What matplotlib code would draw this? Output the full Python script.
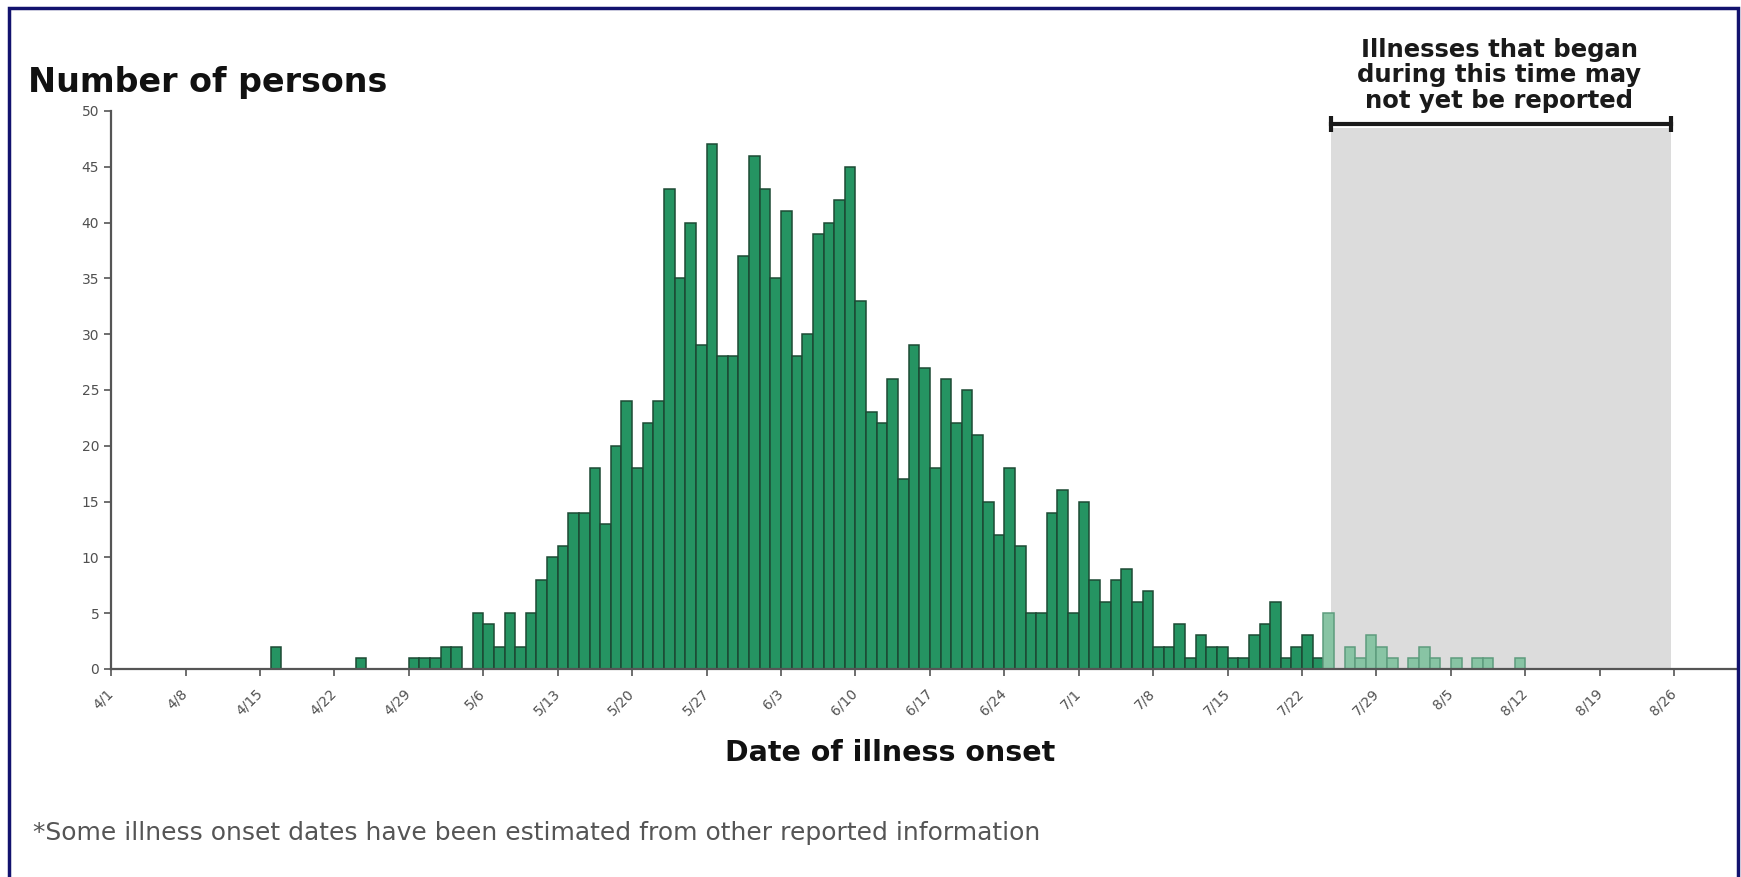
import matplotlib.pyplot as plt
import numpy as np
import pandas as pd
from matplotlib.patches import Rectangle

# daily illness onset counts, starting 4/16
first_onset = '2008-04-16'
cases = [2, 0, 0, 0, 0, 0, 0, 0, 1, 0, 0, 0, 0,
         1, 1, 1, 2, 2, 0,                      # 4/29 - 5/4
         5, 4, 2, 5, 2, 5, 8, 10,               # 5/5 - 5/12
         11, 14, 14, 18, 13, 20, 24,            # 5/13 - 5/19
         18, 22, 24, 43, 35, 40, 29,            # 5/20 - 5/26
         47, 28, 28, 37, 46, 43, 35,            # 5/27 - 6/2
         41, 28, 30, 39, 40, 42, 45,            # 6/3 - 6/9
         33, 23, 22, 26, 17, 29, 27,            # 6/10 - 6/16
         18, 26, 22, 25, 21, 15, 12,            # 6/17 - 6/23
         18, 11, 5, 5, 14, 16, 5,               # 6/24 - 6/30
         15, 8, 6, 8, 9, 6, 7,                  # 7/1 - 7/7
         2, 2, 4, 1, 3, 2, 2,                   # 7/8 - 7/14
         1, 1, 3, 4, 6, 1, 2,                   # 7/15 - 7/21
         3, 1,                                  # 7/22 - 7/23
         5, 0, 2, 1, 3, 2, 1, 0, 1, 2, 1, 0,    # 7/24 - 8/4
         1, 0, 1, 1, 0, 0, 1]                   # 8/5 - 8/11

axis_start = '2008-04-01'
axis_last_tick = '2008-08-26'
not_yet_reported = '2008-07-24'   # bars from here on are incomplete
shade_start = '2008-07-24'
shade_end = '2008-08-25'

origin = pd.Timestamp(axis_start)
days = (pd.date_range(first_onset, periods=len(cases)) - origin).days.to_numpy()
cases = np.array(cases)
late = days >= (pd.Timestamp(not_yet_reported) - origin).days

tick_dates = pd.date_range(axis_start, axis_last_tick, freq='7D')
tick_pos = (tick_dates - origin).days.to_numpy()
tick_labels = [f"{d.month}/{d.day}" for d in tick_dates]

s0 = (pd.Timestamp(shade_start) - origin).days + 0.7
s1 = (pd.Timestamp(shade_end) - origin).days + 0.7

fig = plt.figure(figsize=(17.41, 8.77), dpi=100)
ax = fig.add_axes([0.0638, 0.2372, 0.9345, 0.6363])

ax.add_patch(Rectangle((s0, 0), s1 - s0, 48.5, facecolor='#dcdcdc', lw=0, zorder=0.5))

m = (~late) & (cases > 0)
ax.bar(days[m] + 0.5, cases[m], width=1.0, color='#259462', edgecolor='#1c4a34',
       linewidth=1.1, zorder=2)
m = late & (cases > 0)
ax.bar(days[m] + 0.5, cases[m], width=1.0, color='#88c4a4', edgecolor='#5e9c7e',
       linewidth=1.1, zorder=2)

# bracket over the shaded period
ax.plot([s0, s1], [48.8, 48.8], color='#1a1a1a', lw=3, marker='|', markersize=12,
        mew=3, clip_on=False, zorder=4)

ax.set_xlim(0, 153)
ax.set_ylim(0, 50)
ax.set_yticks(np.arange(0, 51, 5))
ax.set_xticks(tick_pos)
ax.set_xticklabels(tick_labels, rotation=45, ha='right', va='center',
                   rotation_mode='anchor')
ax.tick_params(axis='both', direction='out', length=5, width=1.2, color='#555555',
               labelcolor='#505050', labelsize=10)
ax.tick_params(axis='x', pad=11)

for side in ['top', 'right']:
    ax.spines[side].set_visible(False)
for side in ['left', 'bottom']:
    ax.spines[side].set_color('#555555')
    ax.spines[side].set_linewidth(1.6)

fig.text(0.016, 0.895, 'Number of persons', fontsize=24, fontweight='bold',
         ha='left', va='baseline', color='#111111')
fig.text(0.861, 0.957, 'Illnesses that began\nduring this time may\nnot yet be reported',
         fontsize=17.5, fontweight='bold', ha='center', va='top', linespacing=1.08,
         color='#1a1a1a')
fig.text(0.511, 0.141, 'Date of illness onset', fontsize=20.5, fontweight='bold',
         ha='center', va='center', color='#111111')
fig.text(0.019, 0.050,
         '*Some illness onset dates have been estimated from other reported information',
         fontsize=18, ha='left', va='center', color='#555555')

fig.patches.append(Rectangle((0.005, -0.05), 0.9933, 1.041, transform=fig.transFigure,
                             fill=False, edgecolor='#12126e', lw=2.5))

fig.savefig('out.png', dpi=100)
